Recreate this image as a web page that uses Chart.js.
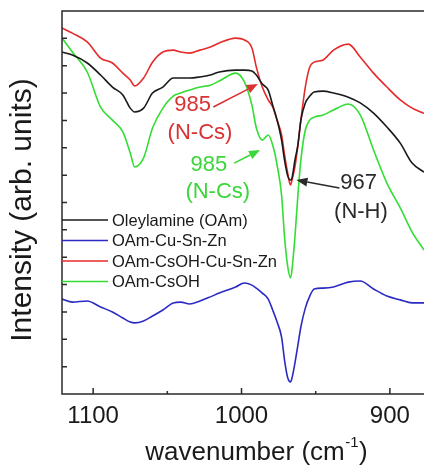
<!DOCTYPE html>
<html>
<head>
<meta charset="utf-8">
<script src="https://cdn.jsdelivr.net/npm/chart.js@4.4.0/dist/chart.umd.min.js"></script>
<style>
  html, body { margin: 0; padding: 0; background: #fff; }
</style>
</head>
<body>
<canvas id="ftir" width="424" height="465"></canvas>
<script>
// FTIR spectra, shared wavenumber grid (cm-1), intensities in arbitrary units
var wavenumbers = [1121, 1114, 1104, 1095, 1087, 1080, 1075, 1072, 1066, 1060, 1053, 1046, 1041, 1035, 1028,
    1021, 1015, 1004, 998, 993, 990, 986, 982, 979, 976, 973, 971, 969, 967, 966, 964, 962, 960, 957, 954,
    951, 945, 938, 928, 920, 911, 902, 893, 885, 877];

var oleylamine = [12.50, 12.39, 12.10, 11.66, 11.22, 10.93, 10.45, 10.31, 10.45, 11.00, 11.22, 11.55, 11.55,
    11.55, 11.59, 11.66, 11.77, 11.84, 11.84, 11.81, 11.66, 11.33, 11.11, 10.56, 10.01, 9.28, 8.55, 8.00, 7.82,
    7.89, 8.55, 9.10, 10.01, 10.64, 10.89, 11.04, 11.07, 11.00, 10.85, 10.64, 10.27, 9.76, 9.17, 8.44, 8.11];

var oamCuSnZn = [3.47, 3.36, 3.40, 3.18, 3.00, 2.78, 2.63, 2.60, 2.67, 2.85, 3.07, 3.33, 3.36, 3.29, 3.40,
    3.55, 3.69, 3.91, 4.06, 3.98, 3.87, 3.69, 3.47, 3.07, 2.63, 2.08, 1.24, 0.62, 0.44, 0.58, 1.13, 1.79, 2.45,
    3.14, 3.58, 3.84, 3.87, 3.91, 4.09, 4.13, 3.84, 3.58, 3.44, 3.33, 3.33];

var oamCsohCuSnZn = [13.38, 13.19, 12.87, 12.28, 12.10, 11.73, 11.48, 11.26, 11.55, 12.13, 12.50, 12.57, 12.50,
    12.46, 12.57, 12.68, 12.83, 13.01, 12.94, 12.65, 11.95, 11.22, 10.75, 10.49, 10.01, 9.47, 8.74, 8.11, 7.64,
    7.82, 8.30, 9.10, 10.01, 11.22, 11.95, 12.13, 12.21, 12.57, 12.79, 12.32, 11.73, 11.22, 10.75, 10.45, 10.26];

var oamCsoh = [13.01, 12.50, 11.77, 10.49, 10.01, 9.58, 8.81, 8.30, 8.63, 9.72, 10.45, 10.89, 11.00, 11.11,
    11.22, 11.29, 11.44, 11.73, 11.40, 10.56, 9.72, 9.28, 9.47, 9.10, 8.37, 7.27, 5.74, 4.71, 4.24, 4.53, 5.74,
    7.27, 8.55, 9.65, 10.01, 10.12, 10.20, 10.38, 10.60, 10.20, 8.92, 7.71, 6.80, 5.92, 5.26];

var seriesNames = ["Oleylamine (OAm)", "OAm-Cu-Sn-Zn", "OAm-CsOH-Cu-Sn-Zn", "OAm-CsOH"];
var seriesValues = [oleylamine, oamCuSnZn, oamCsohCuSnZn, oamCsoh];
var seriesColors = ["#1a1a1a", "#2b2bc4", "#e52a2a", "#33dd33"];
var xTickLabels = [1100, 1000, 900];

var FONT = "'Liberation Sans', Arial, sans-serif";

// peak labels, placed in data units (wavenumber, intensity)
var notes = [
    { text: ["985", "(N-Cs)"], color: "#d93232", at: [[1033, 10.56], [1028, 9.54]], arrow: [[1019, 10.49], [989, 11.33]] },
    { text: ["985", "(N-Cs)"], color: "#3ad63a", at: [[1022, 8.37], [1016, 7.38]], arrow: [[1005, 8.44], [987.5, 8.92]] },
    { text: ["967", "(N-H)"], color: "#2a2a2a", at: [[921, 7.71], [919.5, 6.65]], arrow: [[934, 7.53], [963, 7.82]] }
];

function drawArrow(ctx, x0, y0, x1, y1, color) {
    var a = Math.atan2(y1 - y0, x1 - x0), hl = 11, hw = 4.5;
    var c = Math.cos(a), s = Math.sin(a);
    ctx.strokeStyle = color;
    ctx.fillStyle = color;
    ctx.lineWidth = 1.6;
    ctx.beginPath();
    ctx.moveTo(x0, y0);
    ctx.lineTo(x1 - hl * c, y1 - hl * s);
    ctx.stroke();
    ctx.beginPath();
    ctx.moveTo(x1, y1);
    ctx.lineTo(x1 - hl * c + hw * s, y1 - hl * s - hw * c);
    ctx.lineTo(x1 - hl * c - hw * s, y1 - hl * s + hw * c);
    ctx.closePath();
    ctx.fill();
}

var decorations = {
    id: "decorations",
    afterDraw: function(chart) {
        var ctx = chart.ctx, area = chart.chartArea;
        var xs = chart.scales.x, ys = chart.scales.y;
        ctx.save();

        // frame with inward ticks
        ctx.strokeStyle = "#2a2a2a";
        ctx.lineWidth = 1.5;
        ctx.beginPath();
        ctx.moveTo(area.right + 2, area.top);
        ctx.lineTo(area.left, area.top);
        ctx.lineTo(area.left, area.bottom);
        ctx.lineTo(area.right + 2, area.bottom);
        xs.ticks.forEach(function(t) {
            var px = xs.getPixelForValue(t.value);
            ctx.moveTo(px, area.bottom);
            ctx.lineTo(px, area.bottom - (t.value % 100 === 0 ? 6 : 3));
        });
        ys.ticks.forEach(function(t) {
            if (t.value <= ys.min || t.value >= ys.max) return;
            var py = ys.getPixelForValue(t.value);
            ctx.moveTo(area.left, py);
            ctx.lineTo(area.left + 5, py);
        });
        ctx.stroke();

        // legend
        ctx.font = "16.5px " + FONT;
        ctx.textBaseline = "middle";
        ctx.textAlign = "left";
        seriesNames.forEach(function(name, i) {
            var y = 220 + i * 20.5;
            ctx.strokeStyle = seriesColors[i];
            ctx.lineWidth = 1.6;
            ctx.beginPath();
            ctx.moveTo(area.left, y);
            ctx.lineTo(area.left + 46, y);
            ctx.stroke();
            ctx.fillStyle = "#1a1a1a";
            ctx.fillText(name, area.left + 50, y + 1);
        });

        // peak annotations
        ctx.font = "22px " + FONT;
        ctx.textAlign = "center";
        notes.forEach(function(n) {
            ctx.fillStyle = n.color;
            n.text.forEach(function(line, j) {
                ctx.fillText(line, xs.getPixelForValue(n.at[j][0]), ys.getPixelForValue(n.at[j][1]));
            });
            drawArrow(ctx,
                xs.getPixelForValue(n.arrow[0][0]), ys.getPixelForValue(n.arrow[0][1]),
                xs.getPixelForValue(n.arrow[1][0]), ys.getPixelForValue(n.arrow[1][1]), n.color);
        });

        // axis titles
        ctx.fillStyle = "#1a1a1a";
        ctx.textAlign = "left";
        ctx.textBaseline = "alphabetic";
        ctx.font = "26px " + FONT;
        var t1 = "wavenumber (cm", t3 = ")";
        var w1 = ctx.measureText(t1).width, w3 = ctx.measureText(t3).width;
        ctx.font = "15px " + FONT;
        var w2 = ctx.measureText("-1").width;
        var x0 = 256 - (w1 + w2 + w3) / 2;
        ctx.font = "26px " + FONT;
        ctx.fillText(t1, x0, 460);
        ctx.fillText(t3, x0 + w1 + w2 + 1, 460);
        ctx.font = "15px " + FONT;
        ctx.fillText("-1", x0 + w1 + 0.5, 447);

        ctx.translate(23, 210);
        ctx.rotate(-Math.PI / 2);
        ctx.font = "30px " + FONT;
        ctx.textAlign = "center";
        ctx.textBaseline = "middle";
        ctx.fillText("Intensity (arb. units)", 0, 0);
        ctx.restore();
    }
};

var datasets = seriesNames.map(function(name, i) {
    return {
        label: name,
        data: wavenumbers.map(function(w, k) { return { x: w, y: seriesValues[i][k] }; }),
        borderColor: seriesColors[i],
        borderWidth: 1.6,
        pointRadius: 0,
        cubicInterpolationMode: "monotone",
        fill: false
    };
});

new Chart(document.getElementById("ftir"), {
    type: "line",
    data: { datasets: datasets },
    options: {
        responsive: false,
        animation: false,
        layout: { padding: { top: 11, left: 0, right: 0, bottom: 0 } },
        plugins: { legend: { display: false }, tooltip: { enabled: false } },
        scales: {
            x: {
                type: "linear",
                reverse: true,
                min: 877,
                max: 1121,
                grid: { display: false },
                border: { display: false },
                ticks: {
                    stepSize: 50,
                    includeBounds: false,
                    autoSkip: false,
                    maxRotation: 0,
                    padding: 0,
                    color: "#1a1a1a",
                    font: { size: 24, family: FONT },
                    callback: function(v) { return xTickLabels.indexOf(v) >= 0 ? String(v) : ""; }
                },
                afterFit: function(scale) { scale.height = 71; }
            },
            y: {
                min: 0,
                max: 14,
                grid: { display: false },
                border: { display: false },
                ticks: { display: false, stepSize: 1 },
                afterFit: function(scale) { scale.width = 62; }
            }
        }
    },
    plugins: [decorations]
});
</script>
</body>
</html>
